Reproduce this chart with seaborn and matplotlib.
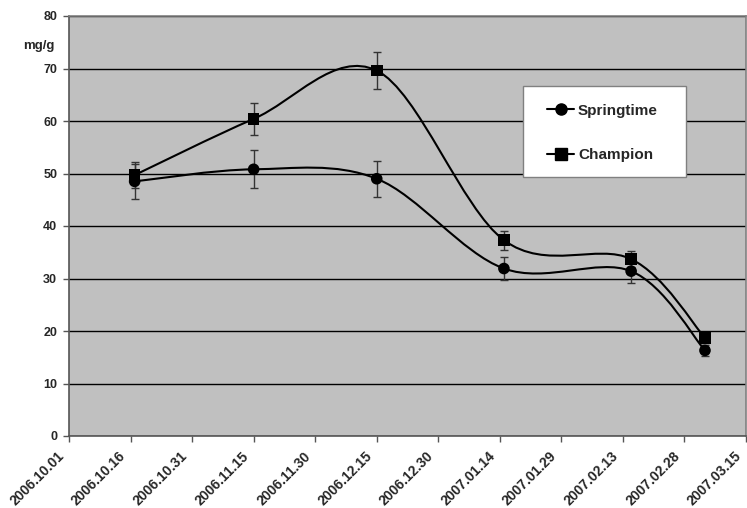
import pandas as pd
import numpy as np
import matplotlib
matplotlib.use("Agg")
import matplotlib.pyplot as plt
import matplotlib.dates as mdates
import matplotlib.lines as mlines
import matplotlib.transforms as mtransforms
from matplotlib.path import Path
from matplotlib.patches import PathPatch, Rectangle
import seaborn as sns

# data
dates = ["2006-10-17", "2006-11-15", "2006-12-15", "2007-01-15", "2007-02-15", "2007-03-05"]
springtime = [48.5, 50.8, 49.0, 31.9, 31.4, 16.3]
springtime_err = [3.3, 3.6, 3.4, 2.2, 2.3, 1.0]
champion = [49.7, 60.4, 69.6, 37.3, 33.7, 18.7]
champion_err = [2.4, 3.0, 3.5, 1.8, 1.6, 1.0]
tick_dates = pd.date_range("2006-10-01", "2007-03-15", freq="15D")

df = pd.DataFrame({
    "date": pd.to_datetime(dates * 2),
    "value": springtime + champion,
    "err": springtime_err + champion_err,
    "series": ["Springtime"] * 6 + ["Champion"] * 6,
})


def smooth_path(x, y):
    # excel style smoothed line (bezier through the points)
    n = len(x)
    verts = [(x[0], y[0])]
    codes = [Path.MOVETO]
    for i in range(n - 1):
        p0 = max(i - 1, 0)
        p3 = min(i + 2, n - 1)
        c1 = (x[i] + (x[i + 1] - x[p0]) / 6, y[i] + (y[i + 1] - y[p0]) / 6)
        c2 = (x[i + 1] - (x[p3] - x[i]) / 6, y[i + 1] - (y[p3] - y[i]) / 6)
        verts += [c1, c2, (x[i + 1], y[i + 1])]
        codes += [Path.CURVE4] * 3
    return Path(verts, codes)


sns.set_style("white")
plt.rcParams["font.family"] = ["Liberation Sans", "DejaVu Sans"]
plt.rcParams["font.weight"] = "bold"

W, H = 747, 508
fig = plt.figure(figsize=(W / 100, H / 100), dpi=100)
ax = fig.add_axes([69 / W, 72 / H, 677 / W, 420 / H])
ax.set_facecolor("#c0c0c0")

for name in ["Springtime", "Champion"]:
    sub = df[df.series == name]
    xs = mdates.date2num(sub["date"])
    ax.add_patch(PathPatch(smooth_path(list(xs), list(sub["value"])),
                           facecolor="none", edgecolor="black", lw=1.5, zorder=3))
    ax.errorbar(sub["date"], sub["value"], yerr=sub["err"], fmt="none",
                ecolor="#333333", elinewidth=1, capsize=3, capthick=1, zorder=2)

sns.scatterplot(data=df, x="date", y="value", style="series",
                markers={"Springtime": "o", "Champion": "s"},
                color="black", s=70, edgecolor="black", linewidth=0,
                legend=False, ax=ax, zorder=4)

ax.set_ylim(0, 80)
ax.set_yticks(range(0, 81, 10))
ax.set_xlim(tick_dates[0], tick_dates[-1])
ax.set_xticks(tick_dates)
ax.yaxis.grid(True, color="black", lw=1)
ax.set_axisbelow(True)
ax.tick_params(axis="both", direction="out", length=4, width=1, color="#555555",
               bottom=True, left=True)
ax.tick_params(axis="x", pad=9)
ax.tick_params(axis="y", pad=4.5)
ax.set_xticklabels([d.strftime("%Y.%m.%d") for d in tick_dates],
                   rotation=45, ha="right", va="center", rotation_mode="anchor",
                   fontsize=10, fontweight="bold")
ax.set_yticklabels([str(v) for v in range(0, 81, 10)], fontsize=9, fontweight="bold")
# nudge date labels left of their ticks (after tick_params, which resets transforms)
shift = mtransforms.ScaledTranslation(-7 / 100, 0, fig.dpi_scale_trans)
for lbl in ax.get_xticklabels():
    lbl.set_transform(lbl.get_transform() + shift)
for side in ["top", "right"]:
    ax.spines[side].set_color("#808080")
for side in ["left", "bottom"]:
    ax.spines[side].set_color("#555555")
for s in ax.spines.values():
    s.set_linewidth(1.2)
ax.set_xlabel("")
ax.set_ylabel("")

fig.text(39 / W, 1 - 46 / H, "mg/g", fontsize=9.5, fontweight="bold", ha="center", va="center")

# legend box
ax.add_patch(Rectangle((523 / W, 1 - 177 / H), 163 / W, 91 / H, transform=fig.transFigure,
                       facecolor="white", edgecolor="#808080", lw=1, zorder=5, clip_on=False))
handles = [mlines.Line2D([], [], color="black", marker="o", markersize=8, lw=1.5, label="Springtime"),
           mlines.Line2D([], [], color="black", marker="s", markersize=8, lw=1.5, label="Champion")]
leg = ax.legend(handles=handles, loc="center left", bbox_to_anchor=(547 / W, 1 - 133 / H),
                bbox_transform=fig.transFigure, frameon=False, fontsize=11,
                handlelength=1.77, handletextpad=0.26, labelspacing=2.0,
                borderpad=0, borderaxespad=0)
leg.set_zorder(6)
for t in leg.get_texts():
    t.set_fontweight("bold")

plt.savefig("out.png", dpi=100)
